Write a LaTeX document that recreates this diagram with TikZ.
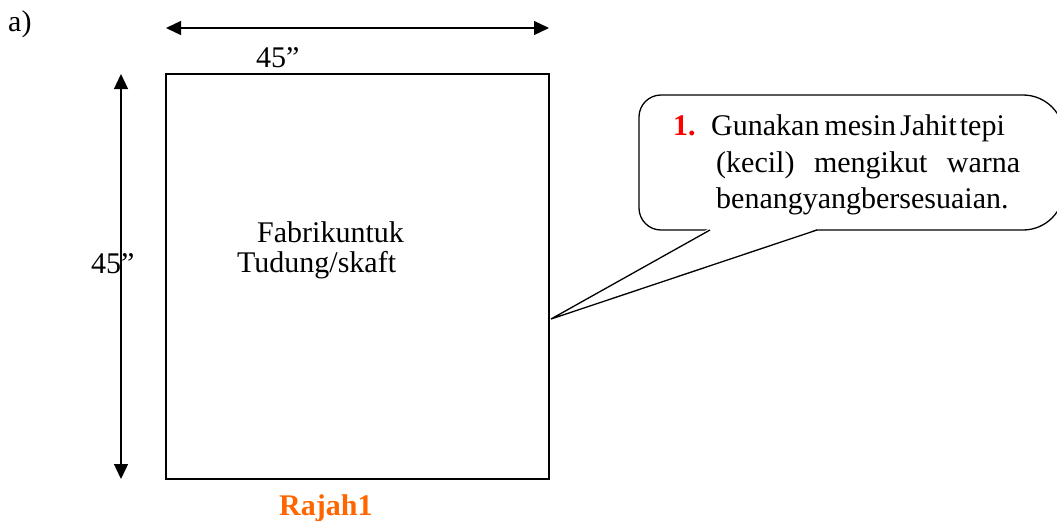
\documentclass[tikz,border=0pt]{standalone}
\usepackage{fontspec}
\setmainfont{Liberation Serif}
\usetikzlibrary{arrows.meta}
\definecolor{rajahorange}{RGB}{255,102,0}
\definecolor{nomred}{RGB}{255,0,0}

\begin{document}
\begin{tikzpicture}[x=1pt,y=-1pt,
    label/.style ={font=\fontsize{30}{36}\selectfont, inner sep=0pt, anchor=base west},
    dimension/.style ={line width=1.3pt, {Triangle[length=15pt,width=14pt]}-{Triangle[length=15pt,width=14pt]}},
    fabric/.style ={draw, line width=1.4pt, minimum width=383pt, minimum height=405pt, inner sep=0pt},
    callout/.style ={draw, line width=1.3pt}]
   \useasboundingbox (0,0) rectangle (1057,520);
   \node[label] (a) at (8,31) {a)};
   \node[fabric] (K) at (357.5,276.5) {};
   \coordinate (A) at (166,28);
   \coordinate (B) at (549,28);
   \coordinate (C) at (121,74);
   \coordinate (D) at (121,479);
   \draw[dimension] (A) to (B);
   \draw[dimension] (C) to (D);
   \node[label] (lebar) at (256,67) {45''};
   \node[label] (tinggi) at (91,273) {45''};
   \node[label] (F1) at (257,242) {Fabrikuntuk};
   \node[label] (F2) at (237,272) {Tudung/skaft};
   \node[label, text=rajahorange] (R) at (279,515) {\textbf{Rajah1}};
   % callout
   \coordinate (T) at (551,319);
   \draw[callout] (850,95) [rounded corners=22pt] -- (639,95) -- (639,230) -- (850,230)
      [rounded corners=41pt] -- (1064,230) -- (1064,95) -- cycle;
   \fill[white] (709,228.5) -- (T) -- (819,228.5) -- cycle;
   \draw[callout] (710,230) -- (T) -- (817,230);
   \node[label] (N) at (673,135) {\textcolor{nomred}{\textbf{1.}}};
   \node[label] (L1) at (711,135) {Gunakan\hspace{5pt}mesin\hspace{4pt}Jahit\hspace{3pt}tepi};
   \node[label] (L2) at (716,172) {\makebox[304pt][s]{(kecil) mengikut warna}};
   \node[label] (L3) at (716,208) {benangyangbersesuaian.};
 \end{tikzpicture}
\end{document}
